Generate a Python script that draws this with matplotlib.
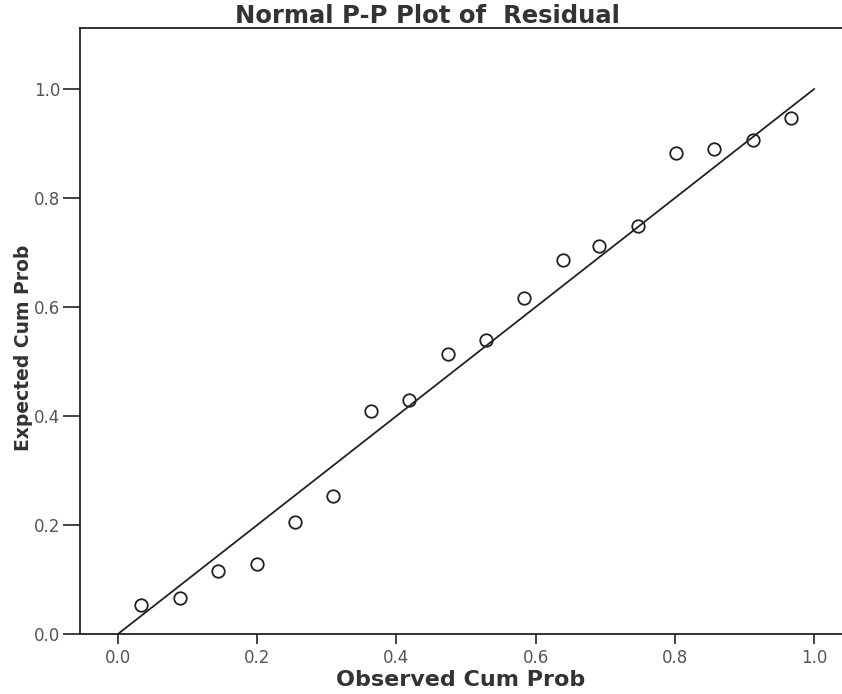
import matplotlib
matplotlib.use('Agg')
import matplotlib.pyplot as plt

plt.rcParams['font.family'] = ['DejaVu Sans']

#observed vs expected cumulative probabilities
observedCumProb = [0.033, 0.089, 0.144, 0.200, 0.254, 0.309, 0.364, 0.418, 0.474,
                   0.529, 0.583, 0.639, 0.691, 0.747, 0.802, 0.856, 0.912, 0.967]
expectedCumProb = [0.053, 0.066, 0.116, 0.129, 0.206, 0.254, 0.410, 0.430, 0.513,
                   0.539, 0.616, 0.686, 0.711, 0.748, 0.882, 0.890, 0.906, 0.947]
refLine = [0.0, 1.0]
tickValues = [0.0, 0.2, 0.4, 0.6, 0.8, 1.0]
tickLabels = ['0.0', '0.2', '0.4', '0.6', '0.8', '1.0']

fig = plt.figure(figsize=(8.42, 6.94), dpi=100)
ax = fig.add_axes([0.095, 0.0865, 0.905, 0.8732])

#diagonal reference line
ax.plot(refLine, refLine, color='#222222', linewidth=1.3, zorder=2)

#open circle markers
ax.plot(observedCumProb, expectedCumProb, linestyle='none', marker='o', markersize=9,
        markerfacecolor='none', markeredgecolor='#222222', markeredgewidth=1.3, zorder=3)

ax.set_xlim(-0.0546, 1.04)
ax.set_ylim(0.0, 1.112)

ax.set_xticks(tickValues)
ax.set_xticklabels(tickLabels)
ax.set_yticks(tickValues)
ax.set_yticklabels(tickLabels)
ax.tick_params(axis='x', direction='out', length=7, width=1.2, colors='#222222',
               labelcolor='#555555', labelsize=12, pad=4)
ax.tick_params(axis='y', direction='out', length=12, width=1.2, colors='#222222',
               labelcolor='#555555', labelsize=12, pad=2)

for side in ['left', 'top', 'bottom']:
    ax.spines[side].set_linewidth(1.3)
    ax.spines[side].set_color('#222222')
ax.spines['right'].set_visible(False)

ax.set_xlabel('Observed Cum Prob', fontsize=16, fontweight='bold', color='#333333')
ax.xaxis.set_label_coords(0.5, -0.0594)
ax.set_ylabel('Expected Cum Prob', fontsize=13.5, fontweight='bold', color='#333333')
ax.yaxis.set_label_coords(-0.0617, 0.472)
fig.text(427 / 842, 1 - 23 / 694, 'Normal P-P Plot of  Residual', ha='center', va='baseline',
         fontsize=17.5, fontweight='bold', color='#333333')

plt.savefig('out.png', dpi=100, facecolor='white')
